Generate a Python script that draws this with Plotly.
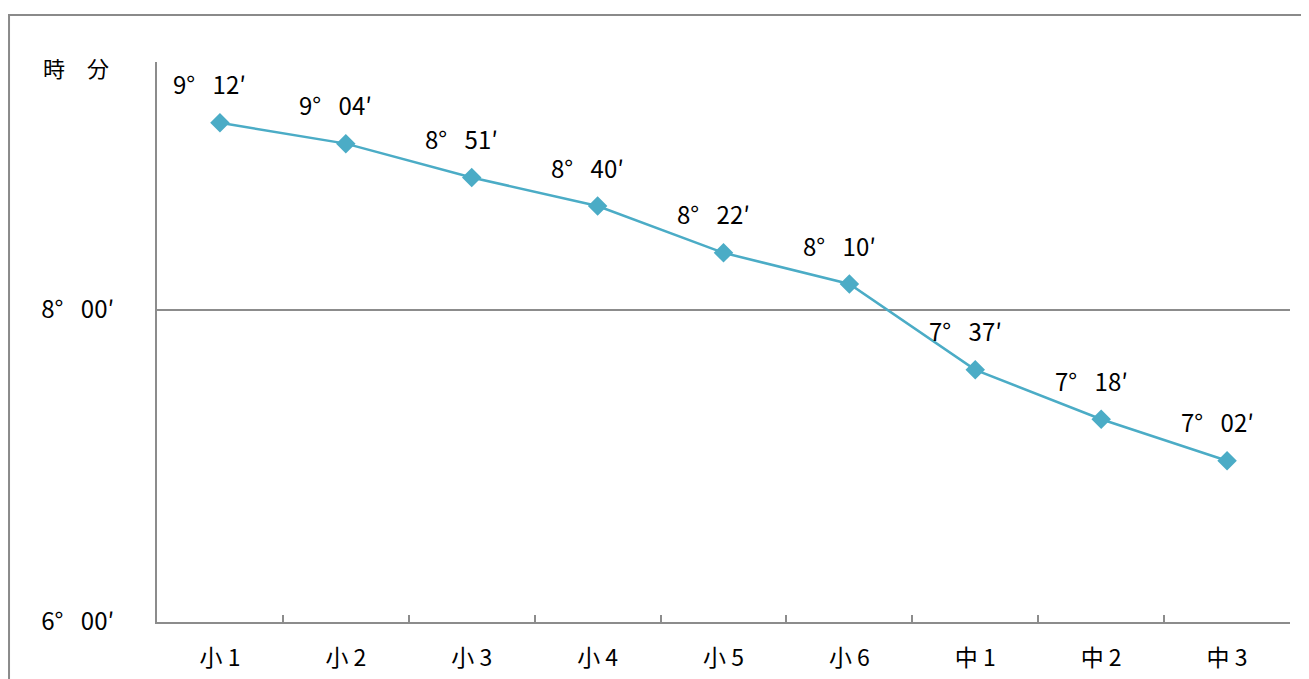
import plotly.graph_objects as go

categories = ["小 1", "小 2", "小 3", "小 4", "小 5", "小 6", "中 1", "中 2", "中 3"]
hours = [9, 9, 8, 8, 8, 8, 7, 7, 7]
minutes = [12, 4, 51, 40, 22, 10, 37, 18, 2]
values = [h * 60 + m for h, m in zip(hours, minutes)]
labels = [f"{h}°\u2002 {m:02d}′" for h, m in zip(hours, minutes)]
ytick_vals = [360, 480]
ytick_text = ["6°\u2002 00′", "8°\u2002 00′"]

LINE = "#4bacc6"
AXIS = "#8c8c8c"
FONT = "Noto Sans CJK JP, sans-serif"

fig = go.Figure()
fig.add_trace(go.Scatter(
    x=categories, y=values, mode="lines+markers",
    line=dict(color=LINE, width=2.5),
    marker=dict(symbol="diamond", size=15, color=LINE),
    hoverinfo="skip", showlegend=False,
))

for c, v, t in zip(categories, values, labels):
    fig.add_annotation(x=c, y=v, text=t, showarrow=False, xshift=-10, yshift=39,
                       font=dict(family=FONT, size=24, color="#000"))

fig.add_annotation(xref="paper", yref="paper", x=-0.0715, y=0.991, xanchor="center", yanchor="middle",
                   text="時　分", showarrow=False,
                   font=dict(family="Noto Sans CJK JP", size=22, color="#000"))

fig.add_shape(type="rect", xref="paper", yref="paper", x0=-0.1306, x1=1.016, y0=-0.3, y1=1.0839,
              line=dict(color="#8a8a8a", width=2), layer="below")

fig.update_xaxes(
    type="category", showline=True, linecolor=AXIS, linewidth=2, mirror=False,
    ticks="inside", tickson="boundaries", ticklen=7, tickcolor=AXIS, tickwidth=1.5,
    showgrid=False, tickfont=dict(family="Noto Sans CJK JP", size=23, color="#000"),
    ticklabelstandoff=14, range=[-0.5, 8.5],
)
fig.update_yaxes(
    range=[360, 575.4], tickvals=ytick_vals, ticktext=ytick_text,
    showline=True, linecolor=AXIS, linewidth=2, ticks="",
    showgrid=True, gridcolor=AXIS, gridwidth=1.5, zeroline=False,
    tickfont=dict(family=FONT, size=24, color="#000"), ticklabelstandoff=36,
)

fig.update_layout(
    width=1309, height=679, margin=dict(l=149, r=27, t=54, b=65),
    plot_bgcolor="white", paper_bgcolor="white",
)

fig.write_html("out.html")
